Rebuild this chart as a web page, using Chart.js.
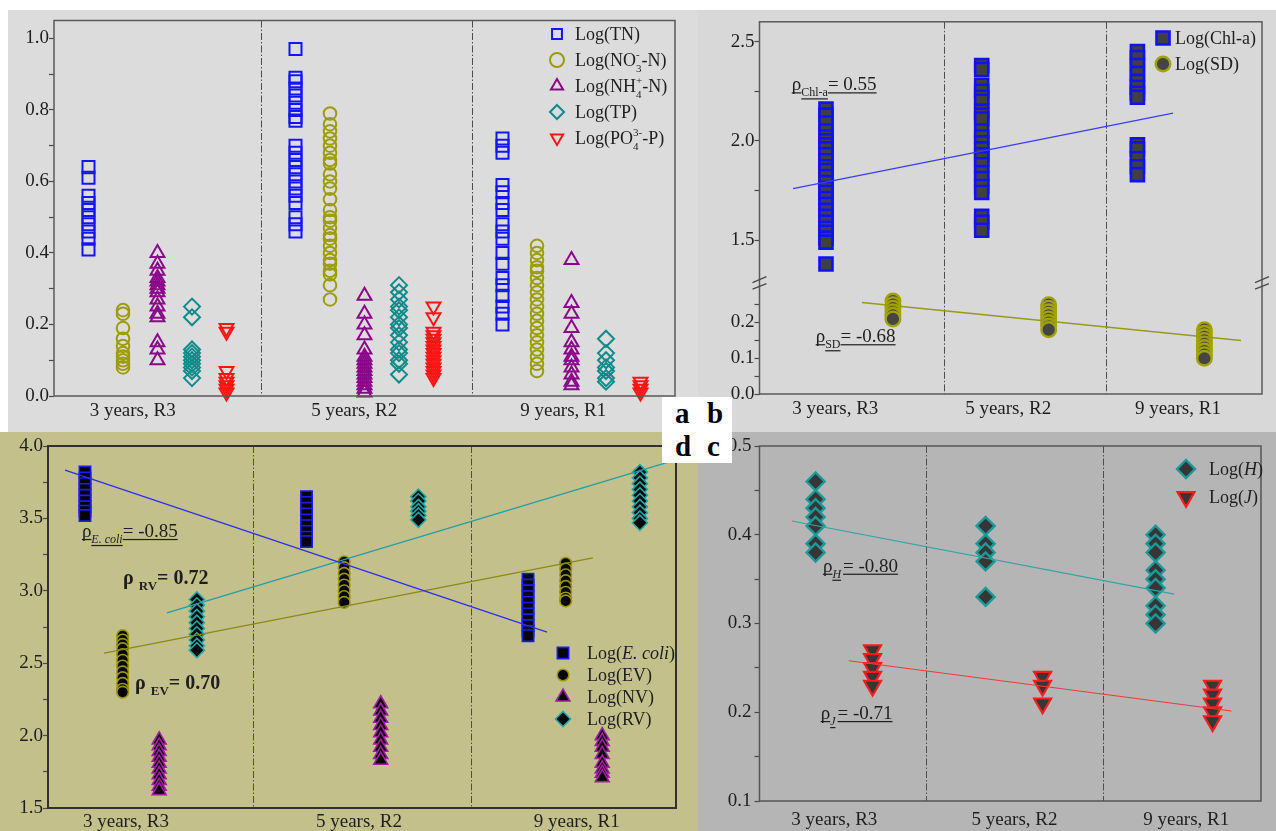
<!DOCTYPE html>
<html lang="en">
<head>
<meta charset="utf-8">
<title>Water quality, phytoplankton, diversity and microbial indicators by restoration age</title>
<script src="https://cdn.jsdelivr.net/npm/chart.js@4.4.1/dist/chart.umd.min.js"></script>
<style>
  html, body { margin: 0; padding: 0; background: #fff; }
  body { position: relative; width: 1276px; height: 831px; overflow: hidden; }
  .panel { position: absolute; }
  .panel canvas { position: absolute; left: 0; top: 0; }
  #tags { position: absolute; left: 662px; top: 397px; width: 70px; height: 66px; background: #fff; }
  .tag { position: absolute; font: bold 29px 'Liberation Serif', 'Times New Roman', serif; line-height: 29px; color: #000; }
</style>
</head>
<body>
<div class="panel" style="left:8px;top:10px;width:690px;height:422px;background:#dcdcdc"><canvas id="ca" width="690" height="422"></canvas></div>
<div class="panel" style="left:698px;top:10px;width:578px;height:422px;background:#d8d8d8"><canvas id="cb" width="578" height="422"></canvas></div>
<div class="panel" style="left:0;top:432px;width:698px;height:399px;background:#c3c08b"><canvas id="cd" width="698" height="399"></canvas></div>
<div class="panel" style="left:698px;top:432px;width:578px;height:399px;background:#b5b5b5"><canvas id="cc" width="578" height="399"></canvas></div>
<div id="tags">
  <span class="tag" style="left:13px;top:2px">a</span>
  <span class="tag" style="left:45px;top:2px">b</span>
  <span class="tag" style="left:13px;top:35px">d</span>
  <span class="tag" style="left:45px;top:35px">c</span>
</div>
<script>
// ---------- categories ----------
const groups = ['3 years, R3', '5 years, R2', '9 years, R1'];

// ---------- (a) nutrients, log values, one list per site ----------
const logTN = [
  [0.64, 0.61, 0.56, 0.54, 0.52, 0.50, 0.48, 0.46, 0.44, 0.41],
  [0.97, 0.89, 0.88, 0.86, 0.84, 0.82, 0.80, 0.78, 0.77, 0.70, 0.68, 0.66, 0.64, 0.62, 0.60, 0.58, 0.56, 0.54, 0.50, 0.48, 0.46],
  [0.72, 0.70, 0.68, 0.59, 0.57, 0.54, 0.52, 0.48, 0.46, 0.44, 0.40, 0.37, 0.33, 0.31, 0.28, 0.25, 0.23, 0.20]
];
const logNO3 = [
  [0.24, 0.23, 0.19, 0.16, 0.14, 0.12, 0.11, 0.10, 0.09, 0.08],
  [0.79, 0.76, 0.74, 0.72, 0.70, 0.68, 0.66, 0.65, 0.62, 0.60, 0.58, 0.55, 0.52, 0.50, 0.49, 0.47, 0.45, 0.44, 0.42, 0.40, 0.38, 0.37, 0.35, 0.34, 0.31, 0.27],
  [0.42, 0.40, 0.38, 0.36, 0.35, 0.33, 0.31, 0.29, 0.27, 0.25, 0.23, 0.21, 0.19, 0.17, 0.15, 0.13, 0.11, 0.09, 0.07]
];
const logNH4 = [
  [0.40, 0.37, 0.35, 0.33, 0.32, 0.31, 0.30, 0.29, 0.27, 0.25, 0.23, 0.22, 0.15, 0.13, 0.10],
  [0.28, 0.23, 0.20, 0.17, 0.13, 0.11, 0.10, 0.09, 0.08, 0.07, 0.06, 0.05, 0.04, 0.03, 0.02, 0.01],
  [0.38, 0.26, 0.23, 0.19, 0.15, 0.13, 0.11, 0.10, 0.08, 0.06, 0.04, 0.03]
];
const logTP = [
  [0.25, 0.22, 0.13, 0.12, 0.11, 0.10, 0.09, 0.08, 0.07, 0.05],
  [0.31, 0.29, 0.27, 0.25, 0.24, 0.22, 0.20, 0.19, 0.17, 0.15, 0.13, 0.12, 0.10, 0.09, 0.06],
  [0.16, 0.12, 0.10, 0.08, 0.07, 0.05, 0.04]
];
const logPO4 = [
  [0.19, 0.18, 0.07, 0.05, 0.04, 0.03, 0.02, 0.01],
  [0.25, 0.22, 0.18, 0.17, 0.16, 0.15, 0.14, 0.13, 0.12, 0.11, 0.10, 0.09, 0.08, 0.07, 0.06, 0.05],
  [0.04, 0.03, 0.02, 0.01]
];

// ---------- (b) chlorophyll-a and Secchi depth ----------
const logChla = [
  [2.16, 2.13, 2.09, 2.05, 2.02, 2.00, 1.98, 1.96, 1.93, 1.90, 1.87, 1.85, 1.82, 1.79, 1.76, 1.74, 1.71, 1.68, 1.65, 1.62, 1.59, 1.56, 1.54, 1.51, 1.49, 1.38],
  [2.38, 2.36, 2.28, 2.25, 2.22, 2.20, 2.15, 2.13, 2.11, 2.05, 2.02, 1.99, 1.96, 1.93, 1.91, 1.88, 1.84, 1.81, 1.77, 1.74, 1.62, 1.59, 1.55],
  [2.45, 2.42, 2.38, 2.34, 2.30, 2.27, 2.24, 2.22, 1.98, 1.96, 1.91, 1.87, 1.83]
];
const logSD = [
  [0.26, 0.25, 0.24, 0.23, 0.22, 0.21],
  [0.25, 0.24, 0.23, 0.22, 0.21, 0.20, 0.19, 0.18],
  [0.18, 0.17, 0.16, 0.15, 0.14, 0.13, 0.12, 0.11, 0.10]
];
const chlaFitX = [0.788, 3.229];
const chlaFitY = [1.76, 2.14];
const sdFitX = [1.231, 3.665];
const sdFitY = [0.256, 0.150];
const rhoChla = 0.55;
const rhoSD = -0.68;

// ---------- (c) diversity (H) and evenness (J) ----------
const logH = [
  [0.46, 0.44, 0.43, 0.42, 0.41, 0.39, 0.38],
  [0.41, 0.39, 0.38, 0.37, 0.33],
  [0.40, 0.39, 0.38, 0.36, 0.35, 0.34, 0.32, 0.31, 0.30]
];
const logJ = [
  [0.27, 0.26, 0.25, 0.24, 0.23],
  [0.24, 0.23, 0.21],
  [0.23, 0.22, 0.21, 0.20, 0.19]
];
const hFitX = [0.86, 3.11];
const hFitY = [0.4155, 0.333];
const jFitX = [1.195, 3.446];
const jFitY = [0.258, 0.2014];
const rhoH = -0.80;
const rhoJ = -0.71;

// ---------- (d) E. coli and viruses ----------
const logEcoli = [
  [3.82, 3.78, 3.74, 3.70, 3.66, 3.62, 3.58, 3.55, 3.52],
  [3.65, 3.61, 3.57, 3.53, 3.49, 3.45, 3.41, 3.37, 3.34],
  [3.08, 3.04, 3.00, 2.96, 2.92, 2.88, 2.84, 2.80, 2.76, 2.72, 2.69]
];
const logEV = [
  [2.69, 2.66, 2.63, 2.60, 2.56, 2.52, 2.48, 2.44, 2.40, 2.36, 2.32, 2.30],
  [3.20, 3.16, 3.12, 3.08, 3.04, 3.00, 2.96, 2.92],
  [3.19, 3.15, 3.11, 3.07, 3.03, 2.99, 2.95, 2.93]
];
const logNV = [
  [1.97, 1.93, 1.89, 1.85, 1.81, 1.77, 1.73, 1.69, 1.65, 1.62],
  [2.22, 2.17, 2.12, 2.07, 2.02, 1.97, 1.92, 1.87, 1.83],
  [2.00, 1.96, 1.92, 1.87, 1.81, 1.77, 1.74, 1.71]
];
const logRV = [
  [2.94, 2.90, 2.86, 2.82, 2.78, 2.74, 2.70, 2.66, 2.62, 2.59],
  [3.65, 3.62, 3.58, 3.55, 3.52, 3.49],
  [3.82, 3.78, 3.74, 3.70, 3.66, 3.62, 3.58, 3.54, 3.50, 3.47]
];
const ecoliFitX = [0.91, 3.086];
const ecoliFitY = [3.834, 2.715];
const rvFitX = [1.37, 3.66];
const rvFitY = [2.847, 3.90];
const evFitX = [1.086, 3.293];
const evFitY = [2.570, 3.227];
const rhoEcoli = -0.85;
const rhoRV = 0.72;
const rhoEV = 0.70;

// ---------- helpers ----------
const FAMILY = "'Liberation Serif', 'Times New Roman', serif";
const INK = '#1e1e1e';
Chart.defaults.font.family = FAMILY;

const fmtRho = v => '= ' + v.toFixed(2);

function seriesPoints(lists, offset) {
  return lists.flatMap((vals, g) => vals.map(v => ({ x: g + 1 + offset, y: v })));
}
function linePoints(xs, ys) {
  return xs.map((x, i) => ({ x, y: ys[i] }));
}
function markerSet(label, lists, offset, st, axis) {
  return {
    label, data: seriesPoints(lists, offset), yAxisID: axis || 'y', showLine: false, clip: false, order: 1,
    pointStyle: st.shape, pointRadius: st.r, pointHoverRadius: st.r, pointRotation: st.rot || 0,
    pointBackgroundColor: st.fill, pointBorderColor: st.edge, pointBorderWidth: st.w,
    pointHoverBackgroundColor: st.fill, pointHoverBorderColor: st.edge, pointHoverBorderWidth: st.w
  };
}
function fitSet(label, xs, ys, color, width, axis) {
  return {
    label, data: linePoints(xs, ys), yAxisID: axis || 'y', showLine: true, clip: false, order: 0,
    borderColor: color, borderWidth: width, pointRadius: 0, pointHoverRadius: 0, fill: false, tension: 0
  };
}
function stepTicks(min, max, step) {
  const out = [];
  const first = Math.ceil(min / step - 1e-9);
  const last = Math.floor(max / step + 1e-9);
  for (let i = first; i <= last; i++) out.push({ value: +(i * step).toFixed(6) });
  return out;
}
const isMultiple = (v, m) => Math.abs(v / m - Math.round(v / m)) < 1e-6;

function xAxis(min, max, labelPos, height, pad) {
  return {
    type: 'linear', min, max,
    grid: { display: false, drawTicks: false },
    border: { display: false },
    afterBuildTicks: s => { s.ticks = labelPos.map(v => ({ value: v })); },
    ticks: {
      autoSkip: false, maxRotation: 0, minRotation: 0, padding: pad, color: INK,
      font: { family: FAMILY, size: 19 },
      callback: (v, i) => groups[i]
    },
    afterFit: s => { s.height = height; s.paddingLeft = 0; s.paddingRight = 0; }
  };
}
// tickMax lets a broken segment stop its ticks below the break
function yAxis(min, max, minor, major, width, pad, extra, tickMax) {
  const top = tickMax === undefined ? max : tickMax;
  return Object.assign({
    type: 'linear', min, max, position: 'left',
    afterBuildTicks: s => { s.ticks = stepTicks(min, top, minor); },
    ticks: {
      autoSkip: false, padding: pad, color: INK, font: { family: FAMILY, size: 19 },
      callback: v => isMultiple(v, major) ? v.toFixed(1) : ''
    },
    grid: { drawOnChartArea: false, drawTicks: true, tickLength: 5, color: '#4a4a4a', tickWidth: 1.2 },
    border: { display: false },
    afterFit: s => { s.width = width; s.paddingTop = 0; s.paddingBottom = 0; }
  }, extra || {});
}

function drawMarker(ctx, shape, r, rot, x, y, fill, edge, w) {
  const rad = (rot || 0) * Math.PI / 180;
  ctx.beginPath();
  if (shape === 'circle') {
    ctx.arc(x, y, r, 0, 2 * Math.PI);
  } else if (shape === 'rect') {
    const s = Math.SQRT1_2 * r;
    ctx.rect(x - s, y - s, 2 * s, 2 * s);
  } else if (shape === 'rectRot') {
    ctx.moveTo(x - r, y); ctx.lineTo(x, y - r); ctx.lineTo(x + r, y); ctx.lineTo(x, y + r); ctx.closePath();
  } else {
    for (let k = 0; k < 3; k++) {
      const t = rad + k * 2 * Math.PI / 3;
      const px = x + Math.sin(t) * r, py = y - Math.cos(t) * r;
      if (k) ctx.lineTo(px, py); else ctx.moveTo(px, py);
    }
    ctx.closePath();
  }
  ctx.fillStyle = fill; ctx.fill();
  ctx.lineWidth = w; ctx.strokeStyle = edge; ctx.stroke();
}

// text with italic runs, subscripts and stacked super/subscripts
function drawRich(ctx, x, y, parts, size, bold, underline, color) {
  const small = Math.round(size * 0.63);
  let cx = x;
  ctx.textAlign = 'left';
  ctx.textBaseline = 'alphabetic';
  const put = (text, px, py, sz, it) => {
    ctx.font = `${it ? 'italic ' : ''}${bold ? 'bold ' : ''}${sz}px ${FAMILY}`;
    ctx.fillStyle = color;
    ctx.fillText(text, px, py);
    const w = ctx.measureText(text).width;
    if (underline) ctx.fillRect(px, py + 2, w, 1.2);
    return w;
  };
  for (const p of parts) {
    if (typeof p === 'string') { cx += put(p, cx, y, size, false); continue; }
    if (p.t !== undefined) { cx += put(p.t, cx, y, size, p.it); continue; }
    let w = 0;
    if (p.sub !== undefined) w = Math.max(w, put(p.sub, cx, y + Math.round(size * 0.32), small, p.it));
    if (p.sup !== undefined) w = Math.max(w, put(p.sup, cx, y - Math.round(size * 0.42), small, p.it));
    cx += w + (p.gap || 0);
  }
  return cx;
}

// per-canvas frame, separators, axis breaks, legend and correlation notes
const decorFor = {};
const decor = {
  id: 'decor',
  beforeDatasetsDraw(chart) {
    const o = decorFor[chart.canvas.id];
    const { ctx, chartArea: a } = chart;
    const x = chart.scales.x;
    ctx.save();
    ctx.lineWidth = 1;
    ctx.strokeStyle = '#4d4d4d';
    ctx.setLineDash([7, 2, 1.5, 2]);
    for (const v of o.separators) {
      const px = Math.round(x.getPixelForValue(v)) + 0.5;
      ctx.beginPath(); ctx.moveTo(px, a.top); ctx.lineTo(px, a.bottom); ctx.stroke();
    }
    ctx.restore();
  },
  afterDatasetsDraw(chart) {
    const o = decorFor[chart.canvas.id];
    const { ctx, chartArea: a } = chart;
    ctx.save();
    ctx.strokeStyle = o.frame;
    ctx.lineWidth = o.frameWidth;
    ctx.strokeRect(a.left, a.top, a.right - a.left, a.bottom - a.top);

    if (o.breakAxis) {
      const yb = chart.scales[o.breakAxis].top;
      ctx.strokeStyle = '#4a4a4a';
      ctx.lineWidth = 1.3;
      for (const px of [a.left, a.right]) {
        ctx.beginPath();
        ctx.moveTo(px - 7, yb - 0.3); ctx.lineTo(px + 7, yb - 6.3);
        ctx.moveTo(px - 7, yb + 6.3); ctx.lineTo(px + 7, yb + 0.7);
        ctx.stroke();
      }
    }

    if (o.legend) {
      const L = o.legend;
      L.items.forEach((it, i) => {
        const ds = chart.data.datasets[it.ds];
        const y = L.y + i * L.dy;
        drawMarker(ctx, ds.pointStyle, L.r || ds.pointRadius, ds.pointRotation, L.x, y,
          ds.pointBackgroundColor, ds.pointBorderColor, ds.pointBorderWidth);
        drawRich(ctx, L.textX, y + 6, it.parts, 18, false, false, INK);
      });
    }

    for (const n of o.notes || []) {
      const px = chart.scales.x.getPixelForValue(n.x);
      const py = chart.scales[n.axis || 'y'].getPixelForValue(n.y);
      drawRich(ctx, px, py, n.parts, n.size || 19, !!n.bold, !!n.underline, n.color || INK);
    }
    ctx.restore();
  }
};

function baseOptions(padTop, padRight, scales) {
  return {
    responsive: false, maintainAspectRatio: false, animation: false, events: [],
    layout: { padding: { top: padTop, right: padRight, bottom: 0, left: 0 } },
    plugins: { legend: { display: false }, tooltip: { enabled: false } },
    scales
  };
}

// ---------- (a) nutrients ----------
decorFor.ca = {
  separators: [2, 3.02], frame: '#5a5a5a', frameWidth: 1.5,
  legend: {
    x: 549, y: 24, dy: 26, textX: 567, r: 7,
    items: [
      { ds: 0, parts: ['Log(TN)'] },
      { ds: 1, parts: ['Log(NO', { sub: '3', sup: '-' }, '-N)'] },
      { ds: 2, parts: ['Log(NH', { sub: '4', sup: '+' }, '-N)'] },
      { ds: 3, parts: ['Log(TP)'] },
      { ds: 4, parts: ['Log(PO', { sub: '4', sup: '3-' }, '-P)'] }
    ]
  }
};
new Chart(document.getElementById('ca'), {
  type: 'scatter',
  data: {
    datasets: [
      markerSet('Log(TN)', logTN, 1 / 6, { shape: 'rect', r: 8.5, fill: 'rgba(0,0,0,0)', edge: '#1414ff', w: 2 }),
      markerSet('Log(NO3-N)', logNO3, 2 / 6, { shape: 'circle', r: 6.3, fill: 'rgba(0,0,0,0)', edge: '#9d9d00', w: 2 }),
      markerSet('Log(NH4-N)', logNH4, 3 / 6, { shape: 'triangle', r: 8, fill: 'rgba(0,0,0,0)', edge: '#8b068b', w: 2 }),
      markerSet('Log(TP)', logTP, 4 / 6, { shape: 'rectRot', r: 8, fill: 'rgba(0,0,0,0)', edge: '#0f8b8b', w: 2 }),
      markerSet('Log(PO4-P)', logPO4, 5 / 6, { shape: 'triangle', rot: 180, r: 8, fill: 'rgba(0,0,0,0)', edge: '#ff1414', w: 2 })
    ]
  },
  options: baseOptions(7, 23, {
    x: xAxis(1, 4, [1.38, 2.45, 3.46], 36, 4),
    y: yAxis(0, 1.05, 0.1, 0.2, 46, 0)
  }),
  plugins: [decor]
});

// ---------- (b) Chl-a and SD on a broken axis ----------
decorFor.cb = {
  separators: [1.758, 2.798], frame: '#5a5a5a', frameWidth: 1.5, breakAxis: 'yBot',
  legend: {
    x: 465, y: 28, dy: 26, textX: 477,
    items: [
      { ds: 0, parts: ['Log(Chl-a)'] },
      { ds: 1, parts: ['Log(SD)'] }
    ]
  },
  notes: [
    { x: 0.78, y: 2.255, axis: 'yTop', underline: true, parts: ['ρ', { sub: 'Chl-a' }, fmtRho(rhoChla)] },
    { x: 0.934, y: 0.145, axis: 'yBot', underline: true, parts: ['ρ', { sub: 'SD' }, fmtRho(rhoSD)] }
  ]
};
new Chart(document.getElementById('cb'), {
  type: 'scatter',
  data: {
    datasets: [
      markerSet('Log(Chl-a)', logChla, 0, { shape: 'rect', r: 9.2, fill: '#404040', edge: '#1010ff', w: 2.6 }, 'yTop'),
      markerSet('Log(SD)', logSD, 0.43, { shape: 'circle', r: 7.3, fill: '#454545', edge: '#a3a300', w: 2.4 }, 'yBot'),
      fitSet('Chl-a trend', chlaFitX, chlaFitY, '#3b3bff', 1.2, 'yTop'),
      fitSet('SD trend', sdFitX, sdFitY, '#999919', 1.5, 'yBot')
    ]
  },
  options: baseOptions(9, 14, {
    x: xAxis(0.573, 3.80, [1.06, 2.17, 3.26], 38, 4),
    yTop: yAxis(1.285, 2.6, 0.25, 0.5, 61.5, 0, { stack: 'split', stackWeight: 263, weight: 1 }),
    yBot: yAxis(0, 0.311, 0.05, 0.1, 61.5, 0, { stack: 'split', stackWeight: 112, weight: 0 }, 0.25)
  }),
  plugins: [decor]
});

// ---------- (c) H and J ----------
decorFor.cc = {
  separators: [1.649, 2.69], frame: '#555555', frameWidth: 1.5,
  legend: {
    x: 488, y: 37, dy: 28, textX: 511,
    items: [
      { ds: 0, parts: ['Log(', { t: 'H', it: true }, ')'] },
      { ds: 1, parts: ['Log(', { t: 'J', it: true }, ')'] }
    ]
  },
  notes: [
    { x: 1.043, y: 0.3584, underline: true, parts: ['ρ', { sub: 'H', it: true, gap: 2 }, fmtRho(rhoH)] },
    { x: 1.03, y: 0.1924, underline: true, parts: ['ρ', { sub: 'J', it: true, gap: 2 }, fmtRho(rhoJ)] }
  ]
};
new Chart(document.getElementById('cc'), {
  type: 'scatter',
  data: {
    datasets: [
      markerSet('Log(H)', logH, 0, { shape: 'rectRot', r: 9, fill: '#363636', edge: '#1c9a9a', w: 2.4 }),
      markerSet('Log(J)', logJ, 0.335, { shape: 'triangle', rot: 180, r: 9.8, fill: '#363636', edge: '#ff1c1c', w: 2.2 }),
      fitSet('H trend', hFitX, hFitY, '#36a3a3', 1.2),
      fitSet('J trend', jFitX, jFitY, '#ee3a3a', 1.2)
    ]
  },
  options: baseOptions(14, 15, {
    x: xAxis(0.67, 3.62, [1.11, 2.17, 3.18], 30, 8),
    y: yAxis(0.1, 0.5, 0.05, 0.1, 61.5, 3)
  }),
  plugins: [decor]
});

// ---------- (d) E. coli and viruses ----------
decorFor.cd = {
  separators: [1.758, 2.743], frame: '#303030', frameWidth: 2,
  legend: {
    x: 563, y: 221, dy: 22, textX: 587,
    items: [
      { ds: 0, parts: ['Log(', { t: 'E. coli', it: true }, ')'] },
      { ds: 1, parts: ['Log(EV)'] },
      { ds: 2, parts: ['Log(NV)'] },
      { ds: 3, parts: ['Log(RV)'] }
    ]
  },
  notes: [
    { x: 0.986, y: 3.372, underline: true, parts: ['ρ', { sub: 'E. coli', it: true }, fmtRho(rhoEcoli)] },
    { x: 1.172, y: 3.047, bold: true, size: 20, parts: ['ρ ', { sub: 'RV' }, fmtRho(rhoRV)] },
    { x: 1.226, y: 2.322, bold: true, size: 20, parts: ['ρ ', { sub: 'EV' }, fmtRho(rhoEV)] }
  ]
};
new Chart(document.getElementById('cd'), {
  type: 'scatter',
  data: {
    datasets: [
      markerSet('Log(E. coli)', logEcoli, 0, { shape: 'rect', r: 8, fill: '#050505', edge: '#1a1aff', w: 1.6 }),
      markerSet('Log(EV)', logEV, 0.17, { shape: 'circle', r: 5.8, fill: '#050505', edge: '#9c9600', w: 1.6 }),
      markerSet('Log(NV)', logNV, 0.335, { shape: 'triangle', r: 8, fill: '#050505', edge: '#a01ea0', w: 1.6 }),
      markerSet('Log(RV)', logRV, 0.505, { shape: 'rectRot', r: 7.5, fill: '#050505', edge: '#1fa6a6', w: 1.6 }),
      fitSet('E. coli trend', ecoliFitX, ecoliFitY, '#2d2df0', 1.3),
      fitSet('RV trend', rvFitX, rvFitY, '#1fa0a8', 1.3),
      fitSet('EV trend', evFitX, evFitY, '#8c8a10', 1.3)
    ]
  },
  options: baseOptions(14, 22, {
    x: xAxis(0.833, 3.668, [1.185, 2.237, 3.22], 23, 3),
    y: yAxis(1.5, 4.0, 0.25, 0.5, 48, 0)
  }),
  plugins: [decor]
});
</script>
</body>
</html>
